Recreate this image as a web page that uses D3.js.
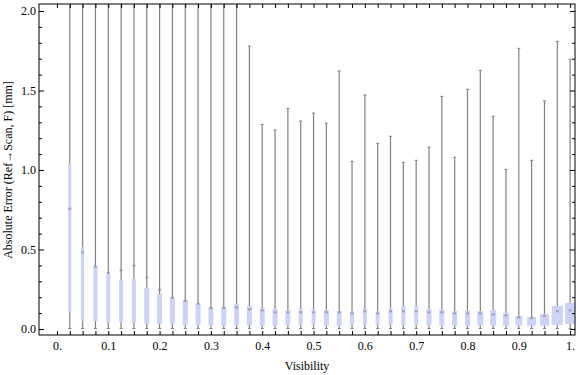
<!DOCTYPE html>
<html>
<head>
<meta charset="utf-8">
<script src="https://cdn.jsdelivr.net/npm/d3@7"></script>
<style>
	body { margin: 0; background: #fff; }
	svg { display: block; font-family: "Liberation Serif", "DejaVu Serif", serif; }
</style>
</head>
<body>
<svg width="576" height="375"></svg>
<script>
const visibility = [0.025, 0.05, 0.075, 0.1, 0.125, 0.15, 0.175, 0.2, 0.225, 0.25,
	0.275, 0.3, 0.325, 0.35, 0.375, 0.4, 0.425, 0.45, 0.475, 0.5,
	0.525, 0.55, 0.575, 0.6, 0.625, 0.65, 0.675, 0.7, 0.725, 0.75,
	0.775, 0.8, 0.825, 0.85, 0.875, 0.9, 0.925, 0.95, 0.975, 1.0];

// whisker ends (the first 14 go past the top of the frame)
const whiskerHigh = [2.6, 2.6, 2.6, 2.6, 2.6, 2.6, 2.6, 2.6, 2.6, 2.6,
	2.6, 2.6, 2.6, 2.6, 1.78, 1.287, 1.252, 1.388, 1.308, 1.358,
	1.294, 1.623, 1.055, 1.472, 1.168, 1.212, 1.048, 1.061, 1.143, 1.463,
	1.08, 1.507, 1.627, 1.338, 1.004, 1.765, 1.061, 1.434, 1.809, 1.696];
const whiskerLow = [0.003, 0.003, 0.003, 0.003, 0.003, 0.003, 0.003, 0.003, 0.003, 0.003,
	0.003, 0.003, 0.003, 0.003, 0.003, 0.003, 0.003, 0.003, 0.003, 0.003,
	0.003, 0.003, 0.003, 0.003, 0.003, 0.003, 0.003, 0.003, 0.003, 0.003,
	0.003, 0.003, 0.003, 0.003, 0.003, 0.003, 0.003, 0.003, 0.003, 0.003];

const upperQuartile = [1.038, 0.516, 0.396, 0.346, 0.308, 0.314, 0.26, 0.22, 0.197, 0.182,
	0.157, 0.134, 0.138, 0.157, 0.145, 0.132, 0.126, 0.119, 0.132, 0.126,
	0.119, 0.113, 0.113, 0.126, 0.113, 0.132, 0.145, 0.145, 0.126, 0.126,
	0.113, 0.113, 0.113, 0.119, 0.101, 0.082, 0.075, 0.094, 0.145, 0.164];
const lowerQuartile = [0.107, 0.05, 0.05, 0.044, 0.044, 0.038, 0.034, 0.034, 0.034, 0.025,
	0.025, 0.025, 0.021, 0.025, 0.025, 0.021, 0.021, 0.025, 0.025, 0.025,
	0.021, 0.021, 0.025, 0.025, 0.025, 0.025, 0.025, 0.025, 0.025, 0.021,
	0.021, 0.021, 0.021, 0.021, 0.021, 0.021, 0.021, 0.021, 0.025, 0.031];
const meanValue = [0.757, 0.482, 0.392, 0.354, 0.369, 0.398, 0.325, 0.247, 0.197, 0.176,
	0.159, 0.132, 0.132, 0.136, 0.124, 0.117, 0.105, 0.105, 0.105, 0.105,
	0.105, 0.105, 0.098, 0.111, 0.098, 0.111, 0.111, 0.111, 0.105, 0.105,
	0.098, 0.098, 0.098, 0.092, 0.086, 0.073, 0.069, 0.082, 0.111, 0.117];

// relative sample weight of each bin, drives box width
const binWeight = [0.3, 0.3, 0.4, 0.4, 0.4, 0.4, 0.5, 0.5, 0.5, 0.5,
	0.5, 0.5, 0.5, 0.5, 0.5, 0.5, 0.5, 0.5, 0.4, 0.4,
	0.5, 0.5, 0.4, 0.4, 0.4, 0.4, 0.4, 0.4, 0.5, 0.5,
	0.5, 0.5, 0.6, 0.6, 0.6, 0.7, 0.9, 0.9, 1.1, 1.0];

const xMajor = [0, 0.1, 0.2, 0.3, 0.4, 0.5, 0.6, 0.7, 0.8, 0.9, 1.0];
const xLabels = ['0.', '0.1', '0.2', '0.3', '0.4', '0.5', '0.6', '0.7', '0.8', '0.9', '1.'];
const yMajor = [0, 0.5, 1.0, 1.5, 2.0];
const yLabels = ['0.0', '0.5', '1.0', '1.5', '2.0'];
const yMinor = [0.1, 0.2, 0.3, 0.4, 0.6, 0.7, 0.8, 0.9, 1.1, 1.2, 1.3, 1.4, 1.6, 1.7, 1.8, 1.9];

const frameL = 39, frameR = 575, frameT = 4, frameB = 335;

const x = d3.scaleLinear().domain([-0.035, 1.0095]).range([frameL, frameR]);
const y = d3.scaleLinear().domain([-0.0377, 2.044]).range([frameB, frameT]);
const w = d3.scaleLinear().domain([0, 1]).range([0, 10]);

const svg = d3.select('svg');

svg.append('clipPath')
	.attr('id', 'plot')
	.append('rect')
	.attr('x', frameL)
	.attr('y', frameT)
	.attr('width', frameR - frameL)
	.attr('height', frameB - frameT);

const rows = visibility.map((v, i) => ({
	v: v,
	lo: whiskerLow[i],
	hi: whiskerHigh[i],
	q1: lowerQuartile[i],
	q3: upperQuartile[i],
	mean: meanValue[i],
	wt: binWeight[i]
}));

const g = svg.append('g').attr('clip-path', 'url(#plot)');

// whiskers
g.selectAll('line.whisker')
	.data(rows)
	.join('line')
	.attr('class', 'whisker')
	.attr('x1', d => x(d.v))
	.attr('x2', d => x(d.v))
	.attr('y1', d => y(d.lo))
	.attr('y2', d => y(d.hi))
	.attr('stroke', '#808080')
	.attr('stroke-width', 1.2);

// caps at both ends
['lo', 'hi'].forEach(k => {
	g.selectAll('line.cap-' + k)
		.data(rows)
		.join('line')
		.attr('class', 'cap-' + k)
		.attr('x1', d => x(d.v) - 1.5)
		.attr('x2', d => x(d.v) + 1.5)
		.attr('y1', d => y(d[k]))
		.attr('y2', d => y(d[k]))
		.attr('stroke', '#808080')
		.attr('stroke-width', 1);
});

// boxes
g.selectAll('rect.box')
	.data(rows)
	.join('rect')
	.attr('class', 'box')
	.attr('x', d => x(d.v) - w(d.wt) / 2)
	.attr('width', d => w(d.wt))
	.attr('y', d => y(d.q3))
	.attr('height', d => y(d.q1) - y(d.q3))
	.attr('fill', '#cbd3f6');

// mean markers
g.selectAll('rect.mean')
	.data(rows)
	.join('rect')
	.attr('class', 'mean')
	.attr('x', d => x(d.v) - 1.5)
	.attr('width', 3)
	.attr('y', d => y(d.mean) - 1)
	.attr('height', 2)
	.attr('fill', '#8c8c9c')
	.attr('opacity', 0.75);

// frame
svg.append('rect')
	.attr('x', frameL)
	.attr('y', frameT)
	.attr('width', frameR - frameL)
	.attr('height', frameB - frameT)
	.attr('fill', 'none')
	.attr('stroke', '#000')
	.attr('stroke-width', 1);

const xTickVals = [0].concat(visibility);

function styleAxis(sel) {
	sel.select('.domain').remove();
	sel.selectAll('.tick line').attr('stroke', '#000');
	sel.selectAll('text')
		.attr('fill', '#000')
		.style('font-family', '"Liberation Serif", serif')
		.style('font-size', '12px');
}

svg.append('g')
	.attr('transform', `translate(0,${frameB})`)
	.call(d3.axisBottom(x).tickValues(xTickVals).tickSize(-4).tickFormat(() => ''))
	.call(styleAxis);

svg.append('g')
	.attr('transform', `translate(0,${frameB})`)
	.call(d3.axisBottom(x).tickValues(xMajor).tickSize(0).tickPadding(6)
		.tickFormat((d, i) => xLabels[i]))
	.call(styleAxis);

svg.append('g')
	.attr('transform', `translate(0,${frameT})`)
	.call(d3.axisTop(x).tickValues(xTickVals).tickSize(-4).tickFormat(() => ''))
	.call(styleAxis);

svg.append('g')
	.attr('transform', `translate(${frameL},0)`)
	.call(d3.axisLeft(y).tickValues(yMajor).tickSize(-5).tickPadding(3)
		.tickFormat((d, i) => yLabels[i]))
	.call(styleAxis)
	.selectAll('text').attr('x', -3);

svg.append('g')
	.attr('transform', `translate(${frameL},0)`)
	.call(d3.axisLeft(y).tickValues(yMinor).tickSize(-3).tickFormat(() => ''))
	.call(styleAxis);

svg.append('g')
	.attr('transform', `translate(${frameR},0)`)
	.call(d3.axisRight(y).tickValues(yMajor).tickSize(-5).tickFormat(() => ''))
	.call(styleAxis);

svg.append('g')
	.attr('transform', `translate(${frameR},0)`)
	.call(d3.axisRight(y).tickValues(yMinor).tickSize(-3).tickFormat(() => ''))
	.call(styleAxis);

// titles
svg.append('text')
	.attr('x', (frameL + frameR) / 2)
	.attr('y', 370)
	.attr('text-anchor', 'middle')
	.style('font-size', '12px')
	.text('Visibility');

svg.append('text')
	.attr('transform', 'translate(12,170) rotate(-90)')
	.attr('text-anchor', 'middle')
	.style('font-size', '12px')
	.text('Absolute Error (Ref→Scan, F) [mm]');
</script>
</body>
</html>
